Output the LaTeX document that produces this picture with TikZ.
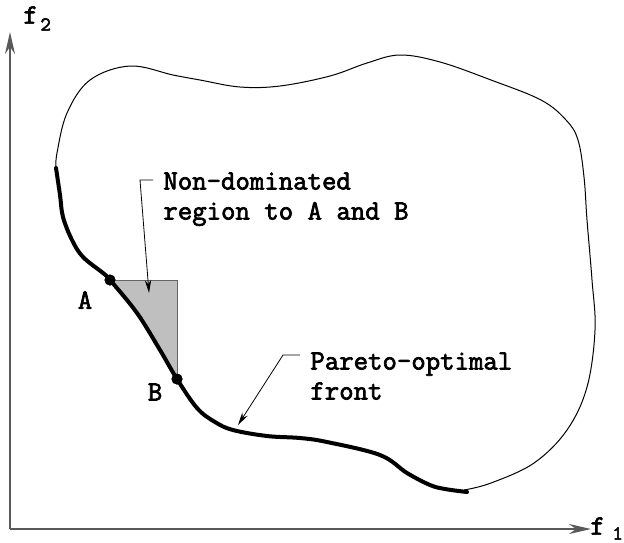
\documentclass[tikz,border=0pt]{standalone}
\usepackage{fontspec}
\setmonofont{Latin Modern Mono}[BoldFont={Latin Modern Mono}, BoldFeatures={FakeBold=2.5}]
\usetikzlibrary{arrows.meta, positioning}

\begin{document}
\begin{tikzpicture}[x=0.5pt, y=-0.5pt,
        lbl/.style = {font=\ttfamily\bfseries\fontsize{14}{15}\selectfont, inner sep=0pt, align=left},
        sub/.style = {font=\ttfamily\bfseries\fontsize{10}{10}\selectfont, inner sep=0pt},
        front/.style = {line width=2pt, line cap=round, line join=round},
        border/.style = {line width=0.5pt},
        pointer/.style = {-{Stealth[length=6.5pt, width=3.2pt]}, line width=0.4pt},
        axis/.style = {-{Stealth[length=11pt, width=5pt]}, line width=1pt, black!65},
        dot/.style = {circle, fill=black, inner sep=0pt, minimum size=5.5pt}]

    \useasboundingbox (0,0) rectangle (624,542);

    % Axes:
    \coordinate (origin) at (10,529);
    \coordinate (xend) at (591,529);
    \coordinate (yend) at (10,32);
    \draw[axis] (origin) -- (xend);
    \draw[axis] (origin) -- (yend);
    \node[lbl, anchor=south west] (ftwo) at (23,24) {f};
    \node[sub, anchor=south west] (ftwosub) at (40,31) {2};
    \node[lbl, anchor=south west] (fone) at (590,535) {f};
    \node[sub, anchor=south west] (fonesub) at (612,540) {1};

    % Points on the front
    \node[dot] (A) at (110,280) {};
    \node[dot] (B) at (177,379) {};

    % Non-dominated region
    \fill[black!25] (A.center) -- (177,280) -- (B.center) -- (160,350) -- (137,313) -- cycle;
    \draw[border, black!60] (A.center) -- (177,280) -- (B.center);

    % Feasible region, thin part
    \draw[border] plot[smooth, tension=0.6] coordinates {(464,490) (491,483) (534,463) (567,430)
        (587,387) (595,330) (592,280) (587,220) (584,177) (578,140) (566,120) (541,100) (491,80)
        (440,62) (400,55) (367,63) (330,76) (280,86) (240,87) (200,80) (173,75) (130,66) (90,80)
        (67,113) (57,153) (56,168)};

    % Pareto-optimal front, thick part
    \draw[front] plot[smooth, tension=0.6] coordinates {(56,168) (60,195) (63,217) (72,240)
        (83,257) (103,273) (110,280) (137,313) (160,350) (177,379) (197,408) (215,422) (233,430)
        (267,436) (300,438) (327,442) (380,455) (407,473) (430,485) (445,489) (467,492)};
    \node[dot] at (A) {};
    \node[dot] at (B) {};

    \node[lbl] (Alab) at (85,300) {A};
    \node[lbl] (Blab) at (155,392) {B};

    % Labels with pointers
    \node[lbl, anchor=north west] (ndtext) at (163,172) {Non-dominated\\region to A and B};
    \coordinate (ndtip) at (149,293);
    \draw[pointer] ([xshift=-5pt, yshift=-4pt]ndtext.north west) -- ++(-13,0) -- (ndtip);

    \node[lbl, anchor=north west] (pftext) at (310,352) {Pareto-optimal\\front};
    \coordinate (pftip) at (238,425);
    \draw[pointer] ([xshift=-5pt, yshift=-1.5pt]pftext.north west) -- ++(-17,0) -- (pftip);

\end{tikzpicture}
\end{document}
